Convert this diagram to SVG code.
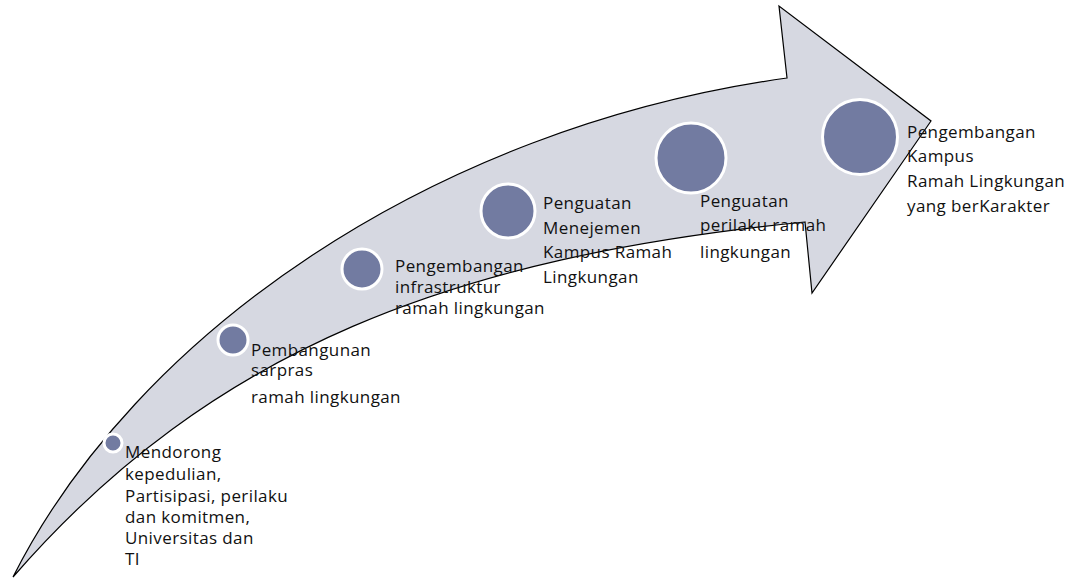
<svg xmlns="http://www.w3.org/2000/svg" width="1074" height="580" viewBox="0 0 1074 580">
<style>
.arrow{fill:#d6d8e1;stroke:#000;stroke-width:1.2;stroke-linejoin:miter}
.dot{fill:#727ba1;stroke:#fff;stroke-width:3}
.lbl{font-family:"Open Sans",Lato,"Liberation Sans",sans-serif;font-size:17px;letter-spacing:0.4px;fill:#111}
</style>
<rect width="1074" height="580" fill="#fff"/>
<g id="arrow">
<path class="arrow" d="M13,577 C135,335 430,128 787,78 L779,6 L931,121 L812,293 L805,222 C455,257 213,347 13,577 Z"/>
</g>
<g id="node1"><circle class="dot" cx="113" cy="443" r="9"/>
<text class="lbl" x="125" y="458">Mendorong</text><text class="lbl" x="125" y="480">kepedulian,</text><text class="lbl" x="125" y="502">Partisipasi, perilaku</text><text class="lbl" x="125" y="523">dan komitmen,</text><text class="lbl" x="125" y="544">Universitas dan</text><text class="lbl" x="125" y="565">TI</text></g>
<g id="node2"><circle class="dot" cx="233" cy="340" r="15"/>
<text class="lbl" x="251" y="356">Pembangunan</text><text class="lbl" x="251" y="376">sarpras</text><text class="lbl" x="251" y="403">ramah lingkungan</text></g>
<g id="node3"><circle class="dot" cx="362" cy="269" r="20"/>
<text class="lbl" x="395" y="272">Pengembangan</text><text class="lbl" x="395" y="293">infrastruktur</text><text class="lbl" x="395" y="314">ramah lingkungan</text></g>
<g id="node4"><circle class="dot" cx="508" cy="211" r="27"/>
<text class="lbl" x="543" y="209">Penguatan</text><text class="lbl" x="543" y="234">Menejemen</text><text class="lbl" x="543" y="258">Kampus Ramah</text><text class="lbl" x="543" y="283">Lingkungan</text></g>
<g id="node5"><circle class="dot" cx="691" cy="158" r="35"/>
<text class="lbl" x="700" y="207">Penguatan</text><text class="lbl" x="700" y="231">perilaku ramah</text><text class="lbl" x="700" y="258">lingkungan</text></g>
<g id="node6"><circle class="dot" cx="860" cy="137" r="37.5"/>
<text class="lbl" x="907" y="138">Pengembangan</text><text class="lbl" x="907" y="162">Kampus</text><text class="lbl" x="907" y="187">Ramah Lingkungan</text><text class="lbl" x="907" y="212">yang berKarakter</text></g>
<g id="connectors"></g>
</svg>
